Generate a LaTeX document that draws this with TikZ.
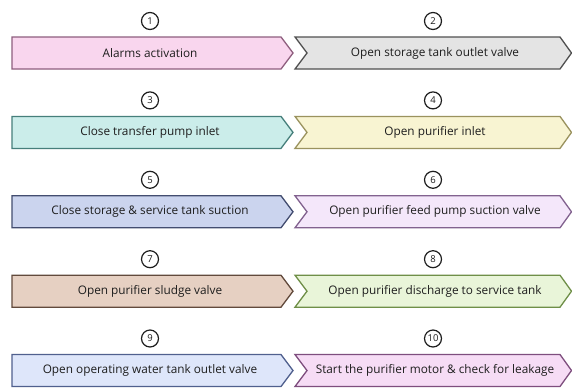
\documentclass[tikz,border=0pt]{standalone}
\usepackage{fontspec}
\setmainfont{Open Sans}
\definecolor{f1}{HTML}{F9D6EE}\definecolor{d1}{HTML}{8E5E7E}
\definecolor{f2}{HTML}{E4E4E4}\definecolor{d2}{HTML}{505050}
\definecolor{f3}{HTML}{CBEDEA}\definecolor{d3}{HTML}{467F7B}
\definecolor{f4}{HTML}{F8F4D2}\definecolor{d4}{HTML}{9A925E}
\definecolor{f5}{HTML}{CBD4EE}\definecolor{d5}{HTML}{434D70}
\definecolor{f6}{HTML}{F4E7FA}\definecolor{d6}{HTML}{82628F}
\definecolor{f7}{HTML}{E6D0C2}\definecolor{d7}{HTML}{624A3C}
\definecolor{f8}{HTML}{E9F5D9}\definecolor{d8}{HTML}{6F8F48}
\definecolor{f9}{HTML}{DEE6FA}\definecolor{d9}{HTML}{50608E}
\definecolor{f10}{HTML}{F6DCF5}\definecolor{d10}{HTML}{7E4E7E}
\definecolor{txt}{HTML}{1E1E1E}
\tikzset{
  chev/.style={line width=1.3pt, line join=miter},
  lbl/.style={text=txt, font=\fontsize{11.8}{13}\selectfont, inner sep=0pt},
  num/.style={circle, draw=txt, line width=1.2pt, minimum size=17pt, inner sep=0pt, text=txt, font=\fontsize{9.5}{11}\selectfont},
}
% #1 id, #2 y centre, #3 text
\newcommand\leftchev[3]{%
  \filldraw[chev, fill=f#1, draw=d#1] (12,#2-16) -- (281,#2-16) -- (293,#2) -- (281,#2+16) -- (12,#2+16) -- cycle;
  \node[lbl] (t#1) at (150,#2) {#3};
  \node[num] (n#1) at (150,#2-32) {#1};
}
\newcommand\rightchev[3]{%
  \filldraw[chev, fill=f#1, draw=d#1] (295,#2-16) -- (560,#2-16) -- (571.5,#2) -- (560,#2+16) -- (295,#2+16) -- (307,#2) -- cycle;
  \node[lbl] (t#1) at (435,#2) {#3};
  \node[num] (n#1) at (433,#2-32) {#1};
}
\begin{document}
\begin{tikzpicture}[x=1pt,y=-1pt]
\useasboundingbox[fill=white] (0,0) rectangle (572,389);
\leftchev{1}{53}{Alarms activation}
\rightchev{2}{53}{Open storage tank outlet valve}
\leftchev{3}{132.4}{Close transfer pump inlet}
\rightchev{4}{132.4}{Open purifier inlet}
\leftchev{5}{211.8}{Close storage \& service tank suction}
\rightchev{6}{211.8}{Open purifier feed pump suction valve}
\leftchev{7}{291.2}{Open purifier sludge valve}
\rightchev{8}{291.2}{Open purifier discharge to service tank}
\leftchev{9}{370.5}{Open operating water tank outlet valve}
\rightchev{10}{370.5}{Start the purifier motor \& check for leakage}
\end{tikzpicture}
\end{document}
